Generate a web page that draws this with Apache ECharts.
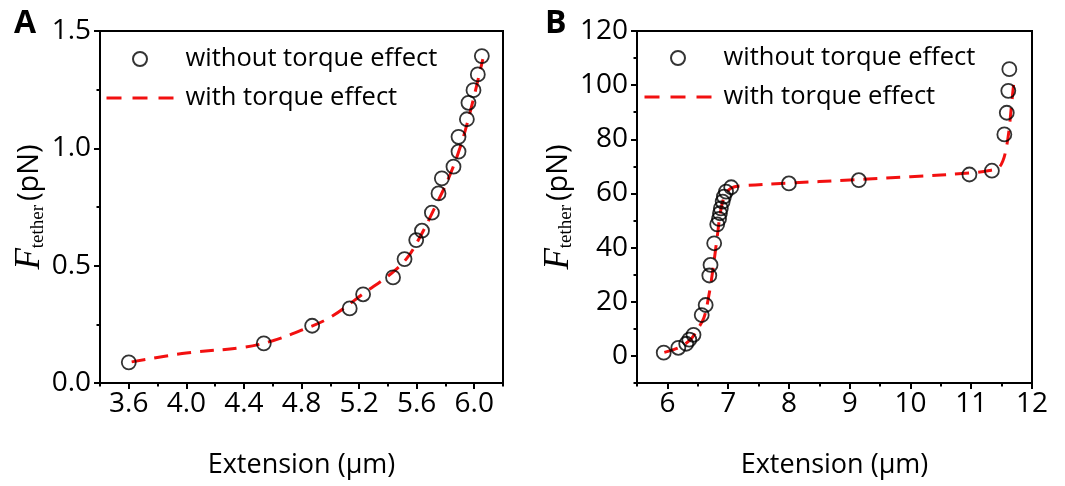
<!DOCTYPE html>
<html>
<head>
<meta charset="utf-8">
<script src="https://cdn.jsdelivr.net/npm/echarts@6/dist/echarts.min.js"></script>
<style>
  html, body { margin: 0; padding: 0; background: #fff; }
  #chart { width: 1065px; height: 486px; }
</style>
</head>
<body>
<div id="chart"></div>
<script>
// ---- Panel A: low-force regime ----
const extA   = [3.60, 4.538, 4.874, 5.135, 5.228, 5.436, 5.516, 5.597, 5.637, 5.706,
                5.752, 5.775, 5.856, 5.891, 5.891, 5.949, 5.960, 5.995, 6.025, 6.053];
const forceA = [0.088, 0.169, 0.244, 0.318, 0.378, 0.450, 0.528, 0.609, 0.649, 0.726,
                0.808, 0.872, 0.922, 0.986, 1.049, 1.124, 1.194, 1.248, 1.315, 1.393];
const modelExtA   = [3.62, 4.00, 4.40, 4.60, 4.80, 5.00, 5.25, 5.40, 5.53, 5.63, 5.72, 5.82, 5.90, 5.97, 6.06];
const modelForceA = [0.090, 0.128, 0.152, 0.180, 0.225, 0.280, 0.390, 0.455, 0.530, 0.630, 0.740, 0.870, 1.000, 1.150, 1.380];
const xTicksA = [3.6, 4.0, 4.4, 4.8, 5.2, 5.6, 6.0];
const xMinorA = [3.4, 3.8, 4.2, 4.6, 5.0, 5.4, 5.8, 6.2];
const yTicksA = [0, 0.5, 1.0, 1.5];
const yMinorA = [0.25, 0.75, 1.25];

// ---- Panel B: overstretching regime ----
const extB   = [5.94, 6.18, 6.31, 6.36, 6.43, 6.565, 6.63, 6.69, 6.71, 6.77, 6.82, 6.85, 6.865,
                6.88, 6.91, 6.93, 6.965, 7.05, 8.00, 9.15, 10.97, 11.34, 11.545, 11.585, 11.61, 11.627];
const forceB = [1.2, 3.0, 4.5, 6.0, 7.8, 15.1, 18.8, 29.7, 33.6, 41.6, 48.6, 50.6, 52.7,
                54.5, 57.0, 58.8, 60.7, 62.3, 63.7, 64.9, 67.0, 68.4, 81.8, 89.8, 97.9, 105.9];
const modelExtB   = [5.95, 6.10, 6.25, 6.40, 6.50, 6.60, 6.68, 6.75, 6.82, 6.88, 6.95, 7.05, 7.20,
                     8.00, 9.00, 10.00, 11.00, 11.30, 11.45, 11.52, 11.57, 11.62, 11.66, 11.71];
const modelForceB = [1.3, 2.3, 3.8, 6.5, 10.0, 14.0, 22.0, 32.0, 44.0, 54.0, 59.5, 62.0, 62.8,
                     63.8, 65.0, 66.2, 67.6, 68.5, 69.5, 72.0, 76.0, 83.0, 92.0, 103.0];
const xTicksB = [6, 7, 8, 9, 10, 11, 12];
const xMinorB = [5.5, 6.5, 7.5, 8.5, 9.5, 10.5, 11.5];
const yTicksB = [0, 20, 40, 60, 80, 100, 120];
const yMinorB = [-10, 10, 30, 50, 70, 90, 110];

const seriesNames = ['without torque effect', 'with torque effect'];

const INK = '#000';
const RED = '#f21010';
const SANS = '"Open Sans", "Noto Sans", sans-serif';
const SERIF = '"Liberation Serif", "DejaVu Serif", serif';

const zip = (xs, ys) => xs.map((x, i) => [x, ys[i]]);

// Main axis: line, long outward ticks and labels at the given values
function majorAxis(gridIndex, min, max, ticks, fmt, pos, extra) {
  return Object.assign({
    type: 'value', gridIndex, min, max, position: pos,
    axisLine: { show: true, onZero: false, lineStyle: { color: INK, width: 2 } },
    axisTick: { show: true, customValues: ticks, length: 6, lineStyle: { color: INK, width: 2 } },
    axisLabel: { customValues: ticks, formatter: fmt, color: INK, fontFamily: SANS, fontSize: 28,
                 margin: pos === 'bottom' ? 7 : 9 },
    splitLine: { show: false }
  }, extra || {});
}
// Companion axis carrying only the short minor ticks
function minorAxis(gridIndex, min, max, ticks, pos) {
  return {
    type: 'value', gridIndex, min, max, position: pos, offset: 0,
    axisLine: { show: false, onZero: false },
    axisTick: { show: true, customValues: ticks, length: 3.5, lineStyle: { color: INK, width: 2 } },
    axisLabel: { show: false },
    splitLine: { show: false }
  };
}

const yName = '{f|F}{s|tether}{g| }{u|(pN)}';
const yNameRich = {
  f: { fontFamily: SERIF, fontStyle: 'italic', fontSize: 35, lineHeight: 34, color: INK },
  s: { fontFamily: SERIF, fontSize: 19, lineHeight: 16, verticalAlign: 'bottom', color: INK },
  g: { fontSize: 14, color: INK },
  u: { fontFamily: SANS, fontSize: 29, color: INK }
};
const xNameOpts = {
  name: 'Extension (\u03bcm)', nameLocation: 'middle', nameGap: 69,
  nameTextStyle: { fontFamily: SANS, fontSize: 27, color: INK }
};
const yNameOpts = {
  name: yName, nameLocation: 'middle', nameRotate: 90, nameGap: 52,
  nameTextStyle: { rich: yNameRich }
};

const fmt1 = v => v.toFixed(1);
const fmt0 = v => String(Math.round(v));

function legendAt(left, top) {
  return {
    data: [
      { name: seriesNames[0] },
      // dashed line only, no marker on the model entry
      { name: seriesNames[1], itemStyle: { color: 'rgba(0,0,0,0)', borderWidth: 0, opacity: 0 },
        lineStyle: { color: RED, width: 3, type: [15, 11] } }
    ],
    orient: 'vertical', left, top, padding: 0,
    itemWidth: 67, itemHeight: 14, itemGap: 13, selectedMode: false,
    textStyle: { fontFamily: SANS, fontSize: 25.5, lineHeight: 26, color: INK, padding: [0, 0, 0, 7] }
  };
}

function scatterSeries(xi, yi, data) {
  return {
    name: seriesNames[0], type: 'scatter', xAxisIndex: xi, yAxisIndex: yi, data,
    symbol: 'circle', symbolSize: 14, z: 3,
    itemStyle: { color: 'rgba(255,255,255,0)', borderColor: INK, borderWidth: 1.8 }
  };
}
function modelSeries(xi, yi, data) {
  return {
    name: seriesNames[1], type: 'line', xAxisIndex: xi, yAxisIndex: yi, data,
    smooth: 0.35, symbol: 'none', showSymbol: false, z: 2,
    lineStyle: { color: RED, width: 3, type: [14, 9] },
    itemStyle: { color: RED }
  };
}

const chart = echarts.init(document.getElementById('chart'), null, { renderer: 'canvas' });
chart.setOption({
  animation: false,
  backgroundColor: '#fff',
  grid: [
    { left: 100, top: 31, width: 403, height: 352, show: true, borderColor: INK, borderWidth: 2, containLabel: false },
    { left: 637, top: 31, width: 395, height: 352, show: true, borderColor: INK, borderWidth: 2, containLabel: false }
  ],
  xAxis: [
    majorAxis(0, 3.4, 6.2, xTicksA, fmt1, 'bottom', xNameOpts),
    minorAxis(0, 3.4, 6.2, xMinorA, 'bottom'),
    majorAxis(1, 5.5, 12, xTicksB, fmt0, 'bottom', xNameOpts),
    minorAxis(1, 5.5, 12, xMinorB, 'bottom')
  ],
  yAxis: [
    majorAxis(0, 0, 1.5, yTicksA, fmt1, 'left', yNameOpts),
    minorAxis(0, 0, 1.5, yMinorA, 'left'),
    majorAxis(1, -10, 120, yTicksB, fmt0, 'left', yNameOpts),
    minorAxis(1, -10, 120, yMinorB, 'left')
  ],
  legend: [legendAt(105, 46), legendAt(643, 45)],
  graphic: [
    { type: 'text', left: 14, top: 8, style: { text: 'A', font: 'bold 32px "Open Sans", sans-serif', fill: INK } },
    { type: 'text', left: 545, top: 8, style: { text: 'B', font: 'bold 32px "Open Sans", sans-serif', fill: INK } }
  ],
  series: [
    modelSeries(0, 0, zip(modelExtA, modelForceA)),
    scatterSeries(0, 0, zip(extA, forceA)),
    modelSeries(2, 2, zip(modelExtB, modelForceB)),
    scatterSeries(2, 2, zip(extB, forceB))
  ]
});
</script>
</body>
</html>
